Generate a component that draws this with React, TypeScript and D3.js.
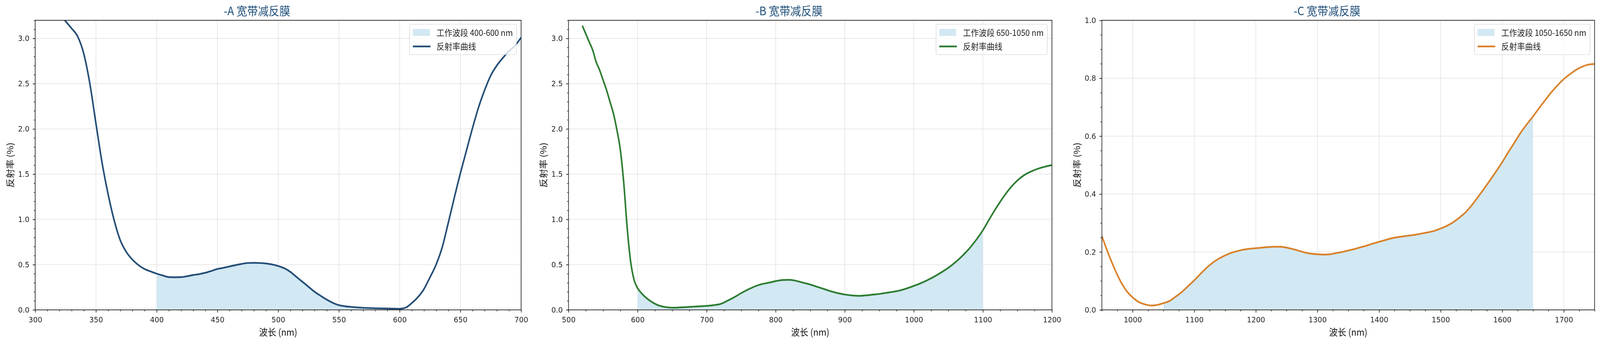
import React, { useEffect, useRef } from 'react';
import * as d3 from 'd3';

const W = 4455;
const H = 884;

// ---------- data ----------
const wlA = [320, 325, 330, 335, 340, 345, 350, 355, 360, 365, 370, 375, 380, 385, 390, 395, 400, 405, 410, 415, 420, 425, 430, 435, 440, 445, 450, 455, 460, 465, 470, 475, 480, 485, 490, 495, 500, 505, 510, 515, 520, 525, 530, 535, 540, 545, 550, 555, 560, 570, 580, 590, 600, 605, 610, 615, 620, 625, 630, 635, 640, 645, 650, 655, 660, 665, 670, 675, 680, 685, 690, 695, 700];
const rA = [3.27, 3.19, 3.11, 3.02, 2.83, 2.5, 2.06, 1.63, 1.28, 0.99, 0.77, 0.64, 0.555, 0.495, 0.452, 0.425, 0.4, 0.38, 0.362, 0.36, 0.362, 0.372, 0.385, 0.395, 0.41, 0.43, 0.452, 0.465, 0.48, 0.495, 0.508, 0.518, 0.52, 0.518, 0.512, 0.502, 0.485, 0.46, 0.42, 0.365, 0.31, 0.255, 0.2, 0.155, 0.113, 0.078, 0.052, 0.04, 0.033, 0.023, 0.018, 0.015, 0.012, 0.025, 0.075, 0.14, 0.23, 0.36, 0.5, 0.69, 0.96, 1.24, 1.51, 1.76, 2.01, 2.24, 2.43, 2.59, 2.7, 2.785, 2.86, 2.92, 3.01];

const wlB = [520, 525, 530, 535, 540, 545, 550, 555, 560, 565, 570, 575, 580, 585, 590, 595, 600, 605, 610, 620, 630, 640, 650, 660, 670, 680, 690, 700, 710, 720, 730, 740, 750, 760, 770, 780, 790, 800, 810, 820, 830, 840, 850, 860, 870, 880, 890, 900, 910, 920, 930, 940, 950, 960, 970, 980, 990, 1000, 1010, 1020, 1030, 1040, 1050, 1060, 1070, 1080, 1090, 1100, 1110, 1120, 1130, 1140, 1150, 1160, 1170, 1180, 1190, 1200];
const rB = [3.14, 3.05, 2.96, 2.87, 2.74, 2.65, 2.54, 2.43, 2.3, 2.17, 1.99, 1.77, 1.4, 0.9, 0.53, 0.33, 0.24, 0.19, 0.15, 0.09, 0.05, 0.032, 0.024, 0.026, 0.03, 0.035, 0.04, 0.044, 0.052, 0.065, 0.1, 0.14, 0.185, 0.225, 0.26, 0.285, 0.3, 0.318, 0.33, 0.332, 0.32, 0.3, 0.28, 0.255, 0.23, 0.205, 0.185, 0.17, 0.16, 0.155, 0.16, 0.168, 0.176, 0.188, 0.2, 0.215, 0.238, 0.265, 0.295, 0.33, 0.37, 0.415, 0.465, 0.525, 0.595, 0.675, 0.77, 0.88, 1.01, 1.135, 1.25, 1.35, 1.43, 1.49, 1.53, 1.56, 1.582, 1.6];

const wlC = [950, 960, 970, 980, 990, 1000, 1010, 1020, 1030, 1040, 1050, 1060, 1070, 1080, 1090, 1100, 1110, 1120, 1130, 1140, 1150, 1160, 1170, 1180, 1190, 1200, 1210, 1220, 1230, 1240, 1250, 1260, 1270, 1280, 1290, 1300, 1310, 1320, 1330, 1340, 1350, 1360, 1370, 1380, 1390, 1400, 1410, 1420, 1430, 1440, 1450, 1460, 1470, 1480, 1490, 1500, 1510, 1520, 1530, 1540, 1550, 1560, 1570, 1580, 1590, 1600, 1610, 1620, 1630, 1640, 1650, 1660, 1670, 1680, 1690, 1700, 1710, 1720, 1730, 1740, 1750];
const rC = [0.255, 0.197, 0.145, 0.1, 0.066, 0.043, 0.027, 0.019, 0.015, 0.017, 0.023, 0.031, 0.046, 0.062, 0.082, 0.102, 0.124, 0.145, 0.163, 0.177, 0.188, 0.197, 0.203, 0.208, 0.211, 0.213, 0.215, 0.217, 0.218, 0.218, 0.215, 0.21, 0.204, 0.198, 0.194, 0.192, 0.191, 0.192, 0.196, 0.2, 0.205, 0.21, 0.216, 0.222, 0.229, 0.235, 0.241, 0.247, 0.251, 0.254, 0.257, 0.26, 0.264, 0.268, 0.273, 0.281, 0.29, 0.302, 0.318, 0.336, 0.36, 0.388, 0.417, 0.447, 0.478, 0.51, 0.545, 0.578, 0.612, 0.641, 0.668, 0.697, 0.725, 0.752, 0.776, 0.797, 0.814, 0.829, 0.84, 0.847, 0.849];

const titles = ['-A 宽带减反膜', '-B 宽带减反膜', '-C 宽带减反膜'];
const bandLabels = ['工作波段 400-600 nm', '工作波段 650-1050 nm', '工作波段 1050-1650 nm'];
const curveLabel = '反射率曲线';
const xLabel = '波长 (nm)';
const yLabel = '反射率 (%)';

const fillRanges = [[400, 600], [600, 1100], [1050, 1650]];
const xDomains = [[300, 700], [500, 1200], [950, 1750]];
const yMaxes = [3.2, 3.2, 1.0];

const xMajorA = [300, 350, 400, 450, 500, 550, 600, 650, 700];
const xMajorB = [500, 600, 700, 800, 900, 1000, 1100, 1200];
const xMajorC = [1000, 1100, 1200, 1300, 1400, 1500, 1600, 1700];
const xMinorSteps = [10, 25, 25];
const yMajorAB = [0, 0.5, 1.0, 1.5, 2.0, 2.5, 3.0];
const yMajorC = [0, 0.2, 0.4, 0.6, 0.8, 1.0];
const yMinorSteps = [0.1, 0.1, 0.05];

const lineColors = ['#264f78', '#2e7d32', '#d9822b'];
const FILL = '#d2e8f3';

const panelLefts = [98, 1583, 3068];
const panelRights = [1451, 2929, 4440];
const TOP = 52;
const BOTTOM = 794;

const TICK_FONT = '"DejaVu Sans", sans-serif';
const CJK_FONT = '"Noto Sans CJK SC", "Noto Sans", sans-serif';

export default function App() {
  const ref = useRef<SVGSVGElement>(null);

  useEffect(() => {
    const svg = d3.select(ref.current);
    svg.selectAll('*').remove();
    svg.append('rect').attr('width', W).attr('height', H).attr('fill', '#ffffff');

    const panels = [
      { wl: wlA, r: rA, xMajor: xMajorA, yMajor: yMajorAB },
      { wl: wlB, r: rB, xMajor: xMajorB, yMajor: yMajorAB },
      { wl: wlC, r: rC, xMajor: xMajorC, yMajor: yMajorC },
    ];

    panels.forEach((p, i) => {
      const left = panelLefts[i];
      const right = panelRights[i];
      const x = d3.scaleLinear().domain(xDomains[i]).range([left, right]);
      const y = d3.scaleLinear().domain([0, yMaxes[i]]).range([BOTTOM, TOP]);
      const g = svg.append('g');
      const clipId = 'clip' + i;
      g.append('clipPath').attr('id', clipId)
        .append('rect').attr('x', left).attr('y', TOP).attr('width', right - left).attr('height', BOTTOM - TOP);

      // grid
      const grid = g.append('g').attr('stroke', '#d3d3d3').attr('stroke-width', 1);
      grid.selectAll('line.gx').data(p.xMajor).join('line').attr('class', 'gx')
        .attr('x1', (d) => x(d)).attr('x2', (d) => x(d)).attr('y1', TOP).attr('y2', BOTTOM);
      grid.selectAll('line.gy').data(p.yMajor).join('line').attr('class', 'gy')
        .attr('x1', left).attr('x2', right).attr('y1', (d) => y(d)).attr('y2', (d) => y(d));

      const data = p.wl.map((w, j) => ({ w, r: p.r[j] }));
      const fd = data.filter((d) => d.w >= fillRanges[i][0] && d.w <= fillRanges[i][1]);

      const area = d3.area<{ w: number; r: number }>()
        .x((d) => x(d.w)).y0(y(0)).y1((d) => y(d.r)).curve(d3.curveMonotoneX);
      g.append('path').attr('d', area(fd) as string).attr('fill', FILL)
        .attr('clip-path', `url(#${clipId})`);

      const line = d3.line<{ w: number; r: number }>()
        .x((d) => x(d.w)).y((d) => y(d.r)).curve(d3.curveMonotoneX);
      g.append('path').attr('d', line(data) as string).attr('fill', 'none')
        .attr('stroke', lineColors[i]).attr('stroke-width', 4.4)
        .attr('stroke-linejoin', 'round').attr('stroke-linecap', 'butt')
        .attr('clip-path', `url(#${clipId})`);

      // minor ticks
      const [x0, x1] = xDomains[i];
      const xs = xMinorSteps[i];
      const xMinor: number[] = [];
      for (let v = Math.ceil(x0 / xs) * xs; v <= x1 + 1e-9; v += xs) xMinor.push(v);
      const ys = yMinorSteps[i];
      const yMinor: number[] = [];
      for (let k = 0; k * ys <= yMaxes[i] + 1e-9; k++) yMinor.push(+(k * ys).toFixed(3));

      const styleAxis = (sel: any) => {
        sel.select('.domain').remove();
        sel.selectAll('line').attr('stroke', '#222').attr('stroke-width', 1.6);
        sel.selectAll('text').attr('font-family', TICK_FONT).attr('font-size', 20).attr('fill', '#222');
      };

      const gxMinor = g.append('g').attr('transform', `translate(0,${BOTTOM})`)
        .call(d3.axisBottom(x).tickValues(xMinor).tickSize(4).tickSizeOuter(0).tickFormat(() => ''));
      styleAxis(gxMinor);
      const gyMinor = g.append('g').attr('transform', `translate(${left},0)`)
        .call(d3.axisLeft(y).tickValues(yMinor).tickSize(4).tickSizeOuter(0).tickFormat(() => ''));
      styleAxis(gyMinor);

      const gx = g.append('g').attr('transform', `translate(0,${BOTTOM})`)
        .call(d3.axisBottom(x).tickValues(p.xMajor).tickSize(7).tickSizeOuter(0).tickPadding(11).tickFormat(d3.format('d')));
      styleAxis(gx);
      const gy = g.append('g').attr('transform', `translate(${left},0)`)
        .call(d3.axisLeft(y).tickValues(p.yMajor).tickSize(7).tickSizeOuter(0).tickPadding(9).tickFormat(d3.format('.1f')));
      styleAxis(gy);

      // spines
      g.append('rect').attr('x', left).attr('y', TOP).attr('width', right - left).attr('height', BOTTOM - TOP)
        .attr('fill', 'none').attr('stroke', '#222').attr('stroke-width', 1.8);

      // title
      g.append('text').attr('x', (left + right) / 2 - 59).attr('y', 39).attr('text-anchor', 'middle')
        .attr('font-family', CJK_FONT).attr('font-size', 30).attr('fill', '#1f4e79').text(titles[i]);

      // axis labels
      g.append('text').attr('x', (left + right) / 2).attr('y', 860).attr('text-anchor', 'middle')
        .attr('font-family', CJK_FONT).attr('font-size', 24).attr('fill', '#111').text(xLabel);
      g.append('text').attr('transform', `translate(${left - 61},${(TOP + BOTTOM) / 2}) rotate(-90)`)
        .attr('text-anchor', 'middle')
        .attr('font-family', CJK_FONT).attr('font-size', 24).attr('fill', '#111').text(yLabel);

      // legend
      const lg = g.append('g');
      const t1 = lg.append('text').attr('font-family', CJK_FONT).attr('font-size', 22).attr('fill', '#222').text(bandLabels[i]);
      const t2 = lg.append('text').attr('font-family', CJK_FONT).attr('font-size', 22).attr('fill', '#222').text(curveLabel);
      const tw = Math.max((t1.node() as SVGTextElement).getComputedTextLength(), (t2.node() as SVGTextElement).getComputedTextLength());
      const boxW = 9 + 47 + 19 + tw + 10;
      const bx = right - 13 - boxW;
      const by = TOP + 10;
      lg.insert('rect', 'text').attr('x', bx).attr('y', by).attr('width', boxW).attr('height', 78)
        .attr('rx', 4).attr('fill', '#ffffff').attr('fill-opacity', 0.8).attr('stroke', '#cccccc').attr('stroke-width', 1.2);
      lg.insert('rect', 'text').attr('x', bx + 9).attr('y', by + 12).attr('width', 47).attr('height', 18).attr('fill', FILL);
      lg.insert('line', 'text').attr('x1', bx + 9).attr('x2', bx + 58).attr('y1', by + 57).attr('y2', by + 57)
        .attr('stroke', lineColors[i]).attr('stroke-width', 4.4);
      t1.attr('x', bx + 75).attr('y', by + 30);
      t2.attr('x', bx + 75).attr('y', by + 65);
    });
  }, []);

  return (
    <svg
      ref={ref}
      viewBox={`0 0 ${W} ${H}`}
      preserveAspectRatio="none"
      style={{ position: 'fixed', left: 0, top: 0, width: '100vw', height: '100vh', display: 'block' }}
    />
  );
}
